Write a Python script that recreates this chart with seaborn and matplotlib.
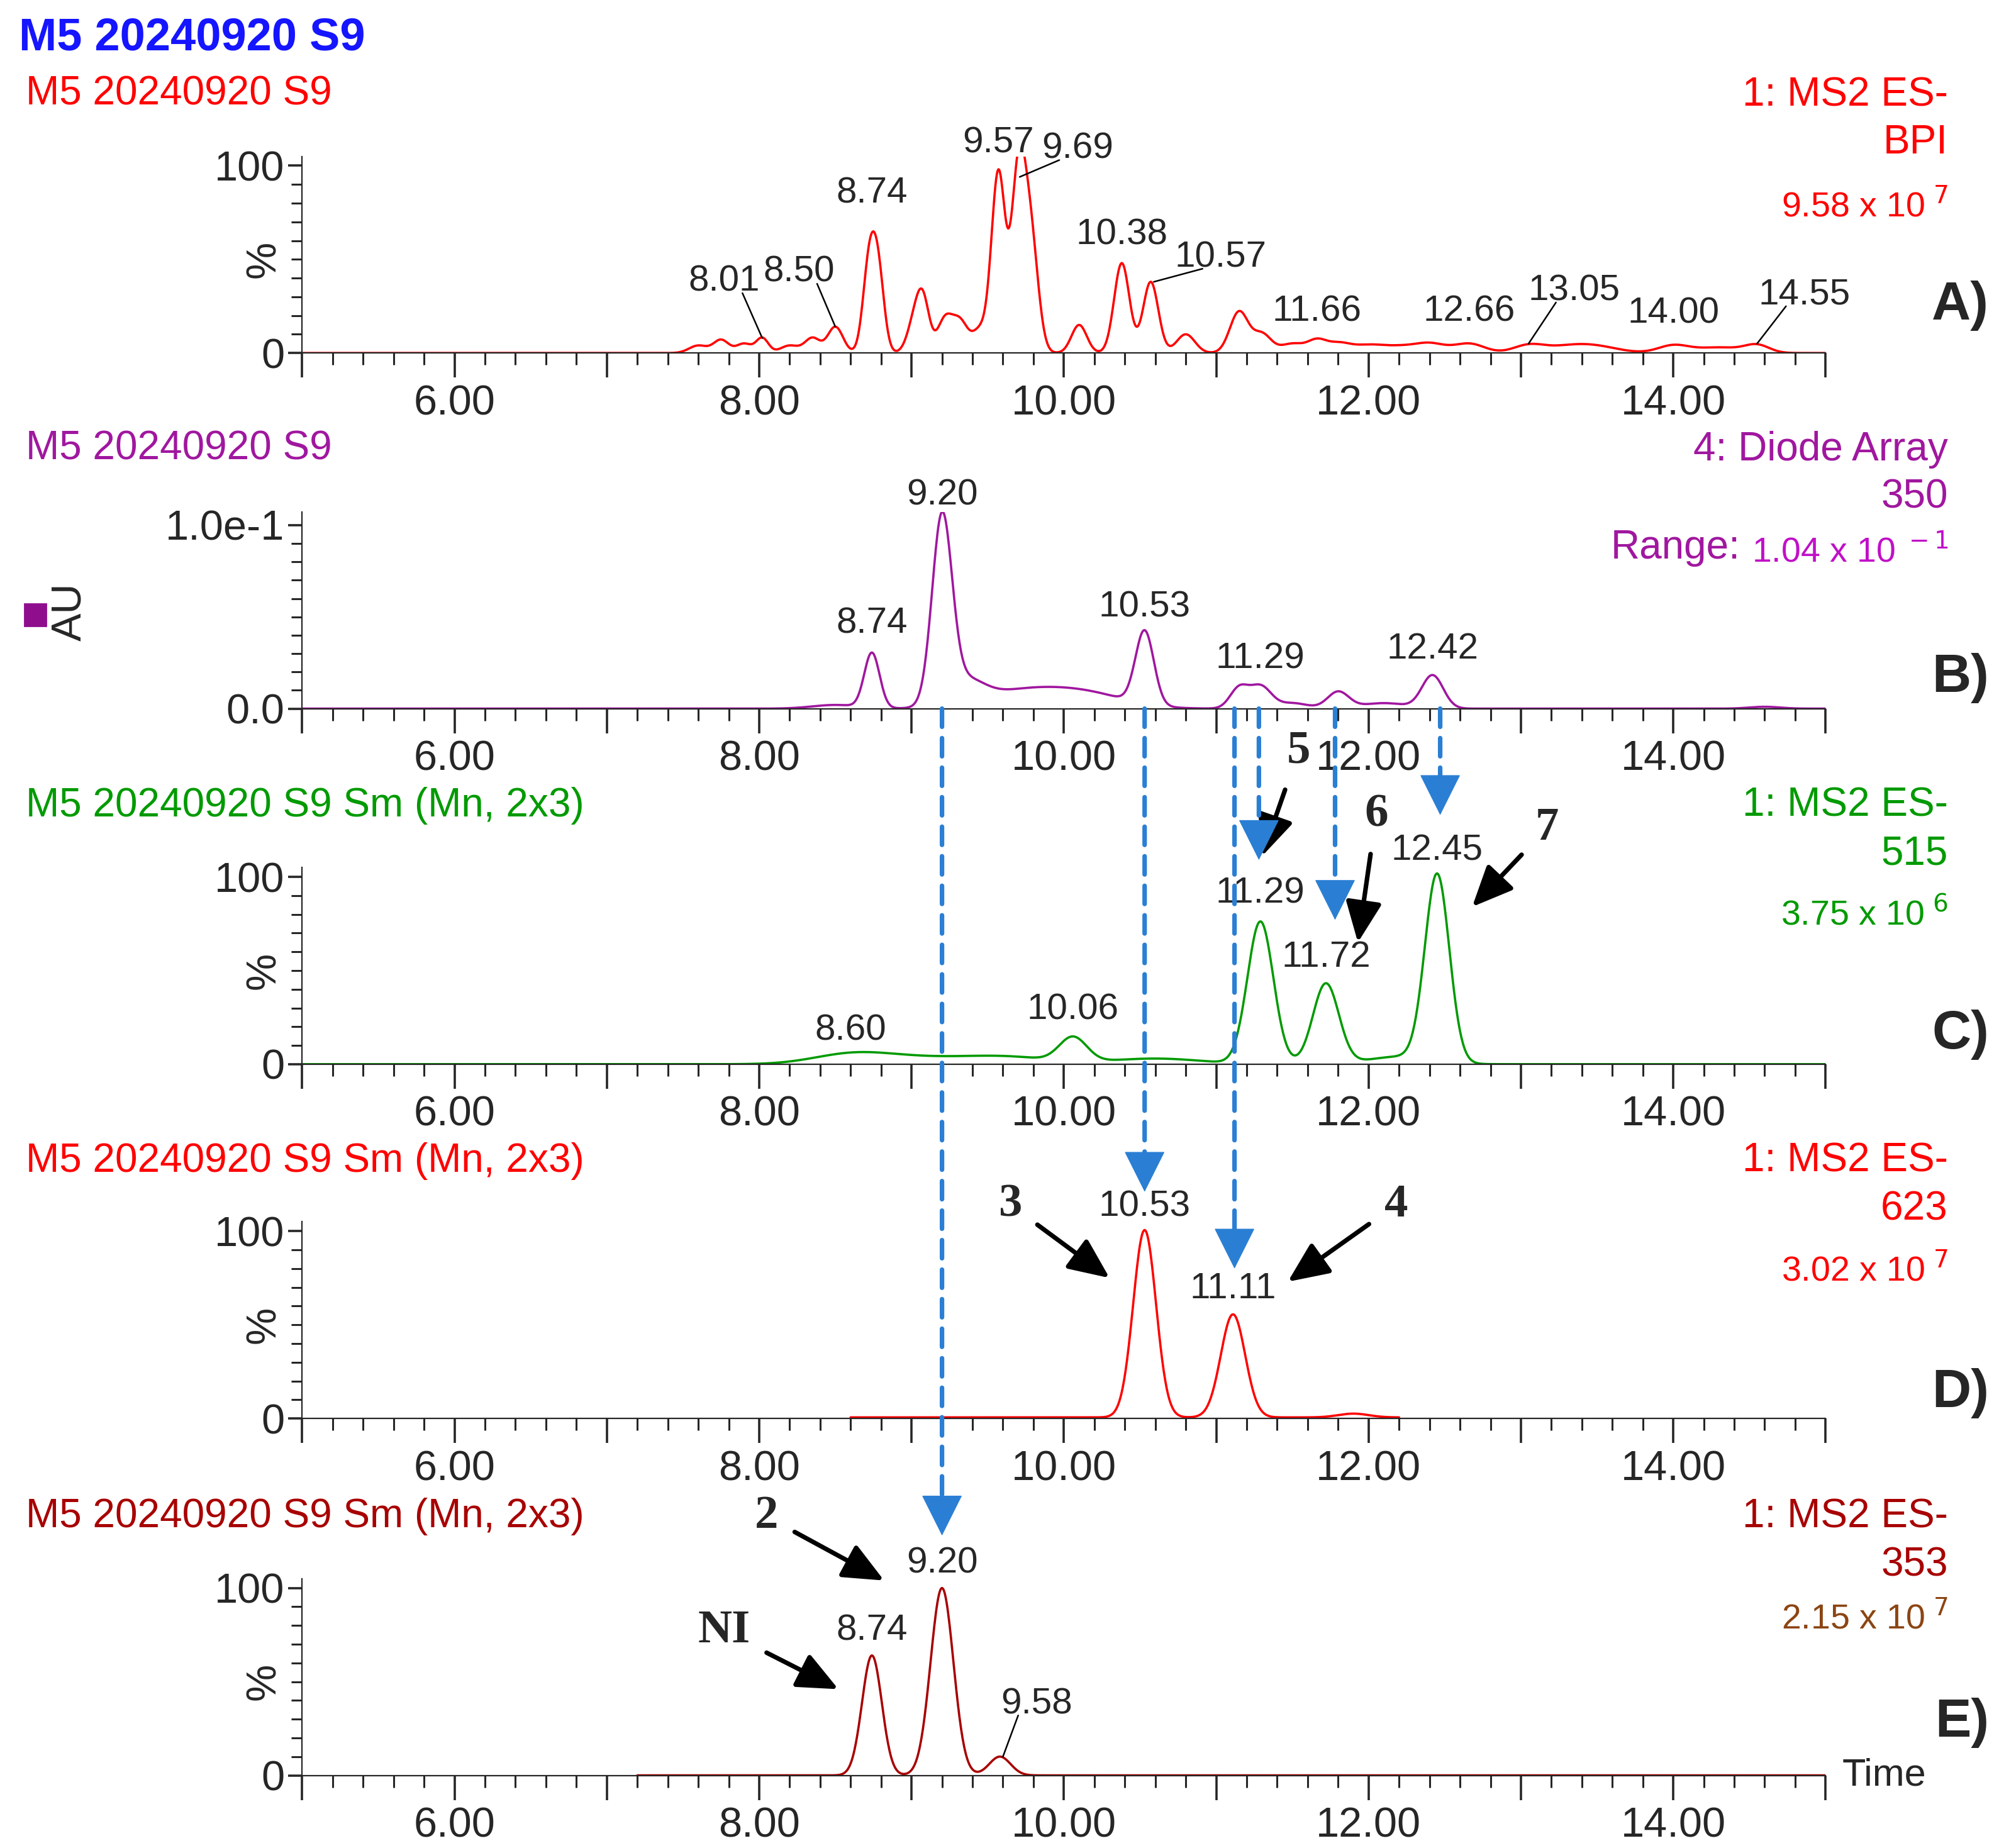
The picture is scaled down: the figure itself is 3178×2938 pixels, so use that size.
import numpy as np
import pandas as pd
import matplotlib
matplotlib.use("Agg")
import matplotlib.pyplot as plt
import seaborn as sns
from matplotlib.patches import ConnectionPatch
from matplotlib.ticker import MultipleLocator, FixedLocator, FixedFormatter

sns.set_style("ticks")
plt.rcParams['font.family'] = ['Liberation Sans', 'DejaVu Sans']

# ---------------- data (peak tables) ----------------
A_rt = [7.6, 7.75, 7.9, 8.02, 8.2, 8.35, 8.5, 8.72, 8.78, 9.03, 9.08, 9.22, 9.32, 9.45, 9.57, 9.70, 9.78,
        10.1, 10.38, 10.57, 10.8, 11.15, 11.3, 11.5, 11.66, 11.8, 12.0, 12.2, 12.4, 12.66, 13.05, 13.3, 13.5, 14.0, 14.3, 14.55]
A_h = [4, 7, 5, 8, 4, 8, 14, 44, 42, 20, 20, 18, 16, 12, 96, 90, 62,
       15, 48, 38, 10, 22, 10, 5, 6, 5, 4, 3, 5, 5, 4, 3, 3, 4, 3, 4]
A_s = [0.06, 0.05, 0.05, 0.04, 0.06, 0.05, 0.05, 0.04, 0.04, 0.05, 0.04, 0.05, 0.05, 0.05, 0.045, 0.045, 0.05,
       0.05, 0.05, 0.05, 0.06, 0.06, 0.06, 0.08, 0.06, 0.08, 0.1, 0.1, 0.1, 0.1, 0.1, 0.15, 0.15, 0.1, 0.15, 0.08]

B_rt = [8.5, 8.74, 9.20, 9.35, 9.6, 9.9, 10.2, 10.53, 11.15, 11.29, 11.5, 11.8, 12.1, 12.42, 14.6]
B_h = [0.002, 0.030, 0.100, 0.012, 0.006, 0.006, 0.006, 0.040, 0.011, 0.012, 0.003, 0.009, 0.003, 0.018, 0.001]
B_s = [0.15, 0.05, 0.065, 0.12, 0.25, 0.25, 0.25, 0.06, 0.06, 0.07, 0.1, 0.07, 0.15, 0.07, 0.1]

C_rt = [8.6, 9.0, 9.6, 10.06, 10.6, 11.29, 11.72, 12.2, 12.45]
C_h = [5, 3, 4, 13, 3, 76, 43, 4, 100]
C_s = [0.25, 0.3, 0.3, 0.09, 0.3, 0.085, 0.085, 0.2, 0.08]

D_rt = [10.53, 11.11, 11.9]
D_h = [100, 55, 2]
D_s = [0.075, 0.08, 0.1]
D_range = (8.6, 12.2)

E_rt = [8.74, 9.20, 9.58]
E_h = [64, 100, 10]
E_s = [0.065, 0.075, 0.07]
E_range = (7.2, 15.0)

# peak labels: (text, peak_x, peak_y, text_x, text_y, leader)
A_labels = [("8.01", 8.02, 8, 7.77, 29, True), ("8.50", 8.50, 14, 8.26, 34, True),
            ("8.74", 8.74, 70, 8.74, 76, False), ("9.57", 9.57, 100, 9.57, 103, False),
            ("9.69", 9.71, 94, 10.09, 100, True), ("10.38", 10.38, 50, 10.38, 54, False),
            ("10.57", 10.59, 38, 11.03, 42, True), ("11.66", 11.66, 8, 11.66, 13, False),
            ("12.66", 12.66, 6, 12.66, 13, False), ("13.05", 13.05, 5, 13.35, 24, True),
            ("14.00", 14.0, 5, 14.0, 12, False), ("14.55", 14.55, 5, 14.86, 22, True)]
B_labels = [("9.20", 9.20, 0.103, 9.20, 0.107, False), ("8.74", 8.74, 0.03, 8.74, 0.037, False),
            ("10.53", 10.53, 0.04, 10.53, 0.046, False), ("11.29", 11.29, 0.013, 11.29, 0.018, False),
            ("12.42", 12.42, 0.02, 12.42, 0.023, False)]
C_labels = [("8.60", 8.6, 5, 8.6, 9, False), ("10.06", 10.06, 15, 10.06, 20, False),
            ("11.29", 11.29, 76, 11.29, 82, False), ("11.72", 11.72, 43, 11.72, 48, False),
            ("12.45", 12.45, 100, 12.45, 105, False)]
D_labels = [("10.53", 10.53, 100, 10.53, 104, False), ("11.11", 11.11, 55, 11.11, 60, False)]
E_labels = [("9.20", 9.20, 100, 9.20, 104, False), ("8.74", 8.74, 64, 8.74, 68, False),
            ("9.58", 9.60, 10, 9.82, 29, True)]

RED = "#ff0000"; PURPLE = "#a0179f"; GREEN = "#009a00"; DRED = "#a80000"; BLUE = "#2a7fd4"

# ---------------- figure ----------------
W, H = 1568.0, 1450.0
fig = plt.figure(figsize=(15.89, 14.69), dpi=200)

def fx(px): return px / W
def fy(py): return 1 - py / H

left, right = 237, 1432
baselines = [277, 556, 835, 1113, 1393]
ppu = 1.47  # px per % unit
axes = []
for i, b in enumerate(baselines):
    hpx = 105 * ppu
    ax = fig.add_axes([fx(left), fy(b), fx(right - left), hpx / H])
    axes.append(ax)

grid = np.linspace(5, 15, 2001)

def trace(rt, h, s, rng=None):
    y = np.zeros_like(grid)
    for r, hh, ss in zip(rt, h, s):
        y += hh * np.exp(-0.5 * ((grid - r) / ss) ** 2)
    df = pd.DataFrame({"t": grid, "v": y})
    if rng is not None:
        df = df[(df.t >= rng[0]) & (df.t <= rng[1])]
    return df

specs = [
    (A_rt, A_h, A_s, None, RED, 105, A_labels),
    (B_rt, B_h, B_s, None, PURPLE, 0.1 * 105 * ppu / 144, B_labels),
    (C_rt, C_h, C_s, None, GREEN, 105, C_labels),
    (D_rt, D_h, D_s, D_range, RED, 105, D_labels),
    (E_rt, E_h, E_s, E_range, DRED, 105, E_labels),
]

lab_fs = 21
for i, (ax, (rt, h, s, rng, col, ytop, labels)) in enumerate(zip(axes, specs)):
    df = trace(rt, h, s, rng)
    if i == 3:
        df["v"] = df["v"] + 0.6
    sns.lineplot(data=df, x="t", y="v", ax=ax, color=col, lw=1.3)
    ax.set_xlim(5, 15)
    ax.set_ylim(0, ytop)
    ax.set_xlabel(""); ax.set_ylabel("")
    for sp in ["top", "right"]:
        ax.spines[sp].set_visible(False)
    ax.patch.set_alpha(0)
    ax.xaxis.set_major_locator(FixedLocator([5, 6, 7, 8, 9, 10, 11, 12, 13, 14, 15]))
    ax.xaxis.set_major_formatter(FixedFormatter(["", "6.00", "", "8.00", "", "10.00", "", "12.00", "", "14.00", ""]))
    ax.xaxis.set_minor_locator(MultipleLocator(0.2))
    ax.tick_params(axis="x", which="major", length=14, width=1.3, labelsize=24, pad=4)
    ax.tick_params(axis="x", which="minor", length=7, width=1.1)
    if i == 1:
        ax.set_yticks([0, 0.1])
        ax.set_yticklabels(["0.0", "1.0e-1"])
        ax.yaxis.set_minor_locator(MultipleLocator(0.01))
    else:
        ax.set_yticks([0, 100])
        ax.set_yticklabels(["0", "100"])
        ax.yaxis.set_minor_locator(MultipleLocator(10))
        ax.text(-0.012, 50, "%", transform=ax.get_yaxis_transform(), rotation=90,
                ha="right", va="center", fontsize=24)
    ax.tick_params(axis="y", which="major", length=8, width=1.3, labelsize=24, pad=2)
    ax.tick_params(axis="y", which="minor", length=6, width=1.1)
    for (t, px, py, tx, ty, lead) in labels:
        ax.text(tx, ty, t, ha="center", va="bottom", fontsize=lab_fs, clip_on=False)
        if lead:
            ax.plot([px, tx - 0.12 if tx > px else tx + 0.12], [py, ty + (3 if ytop > 1 else 0.003)],
                    color="black", lw=0.9, clip_on=False)

# blue dashed arrows from panel B down to the target panels
blue_arrows = [(9.20, 4, 128), (10.53, 3, 121), (11.12, 3, 80), (11.28, 2, 109), (11.78, 2, 77), (12.47, 2, 133)]
for x, tgt, ytip in blue_arrows:
    cp = ConnectionPatch(xyA=(x, 0), coordsA=axes[1].transData, xyB=(x, ytip + 8), coordsB=axes[tgt].transData,
                         arrowstyle="-", color=BLUE, lw=2.6, linestyle=(0, (4, 2.5)))
    fig.add_artist(cp)
    hd = ConnectionPatch(xyA=(x, ytip + 12), coordsA=axes[tgt].transData, xyB=(x, ytip), coordsB=axes[tgt].transData,
                         arrowstyle="-|>,head_length=1.0,head_width=0.5", color=BLUE, lw=0.5,
                         mutation_scale=22, shrinkA=0, shrinkB=0)
    fig.add_artist(hd)

# black numbered arrows
black = [("5", 2, 11.54, 167, 11.30, 111), ("6", 2, 12.05, 133, 11.93, 65), ("7", 2, 13.17, 126, 12.68, 84),
         ("3", 3, 9.65, 114, 10.30, 75), ("4", 3, 12.18, 114, 11.47, 73),
         ("2", 4, 8.05, 138, 8.82, 104), ("NI", 4, 7.77, 77, 8.52, 46)]
for t, a, tx, ty, px, py in black:
    axes[a].annotate(t, xy=(px, py), xytext=(tx, ty), ha="center", va="center",
                     fontsize=27, fontweight="bold", family="Liberation Serif",
                     arrowprops=dict(arrowstyle="-|>,head_length=0.9,head_width=0.4", color="black", lw=2.6,
                                     mutation_scale=22, shrinkA=8, shrinkB=0),
                     annotation_clip=False)

# texts
fs = 23
fig.text(fx(15), fy(30), "M5 20240920 S9", color="#1515ff", fontsize=26, fontweight="bold", va="center")
titles = [("M5 20240920 S9", 74, RED), ("M5 20240920 S9", 352, PURPLE),
          ("M5 20240920 S9 Sm (Mn, 2x3)", 632, GREEN), ("M5 20240920 S9 Sm (Mn, 2x3)", 911, RED),
          ("M5 20240920 S9 Sm (Mn, 2x3)", 1190, DRED)]
for t, y, c in titles:
    fig.text(fx(20), fy(y), t, color=c, fontsize=fs, va="center")

R = 1528
right_txt = [
    [("1: MS2 ES-", 75, RED), ("BPI", 112, RED), (r"9.58 x 10$^{\ 7}$", 162, RED)],
    [("4: Diode Array", 353, PURPLE), ("350", 390, PURPLE), (r"1.04 x 10$^{\ -1}$", 433, "#c010c8")],
    [("1: MS2 ES-", 632, GREEN), ("515", 670, GREEN), (r"3.75 x 10$^{\ 6}$", 718, GREEN)],
    [("1: MS2 ES-", 911, RED), ("623", 949, RED), (r"3.02 x 10$^{\ 7}$", 997, RED)],
    [("1: MS2 ES-", 1190, DRED), ("353", 1228, DRED), (r"2.15 x 10$^{\ 7}$", 1270, "#8b4513")],
]
for grp in right_txt:
    for k, (t, y, c) in enumerate(grp):
        fig.text(fx(R), fy(y), t, color=c, fontsize=fs if k < 2 else 20, ha="right", va="center")
fig.text(fx(1365), fy(430), "Range:", color=PURPLE, fontsize=fs, ha="right", va="center")

for lt, y in zip(["A)", "B)", "C)", "D)", "E)"], [240, 532, 812, 1093, 1352]):
    fig.text(fx(1560), fy(y), lt, fontsize=31, fontweight="bold", ha="right", va="center")
fig.text(fx(1445), fy(1393), "Time", fontsize=22, ha="left", va="center")

fig.text(fx(55), fy(480), "AU", fontsize=24, rotation=90, ha="center", va="center")
fig.patches.append(plt.Rectangle((fx(19), fy(491)), fx(17), 17 / H, transform=fig.transFigure,
                                 color="#8e0e8e", figure=fig))

fig.savefig("out.png", dpi=200)
